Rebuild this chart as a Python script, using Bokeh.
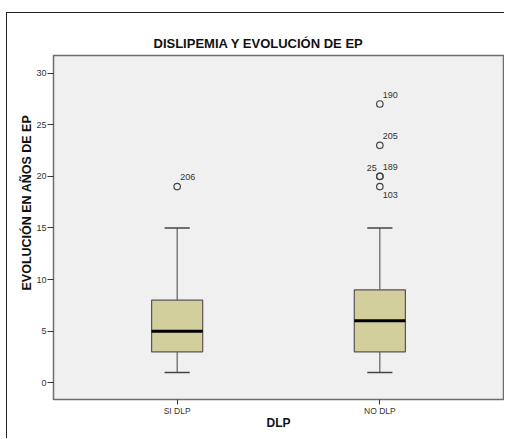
from bokeh.plotting import figure
from bokeh.models import Range1d, FixedTicker, Title, ColumnDataSource
from bokeh.embed import file_html
from bokeh.resources import INLINE

# ---- data ----
categories = ["SI DLP", "NO DLP"]
q1 = [3, 3]
median = [5, 6]
q3 = [8, 9]
whisker_low = [1, 1]
whisker_high = [15, 15]

outlier_group = [0, 1, 1, 1, 1, 1]
outlier_value = [19, 27, 23, 20, 20, 19]
outlier_id = ["206", "190", "205", "25", "189", "103"]
outlier_place = ["ur", "ur", "ur", "ul", "ur", "dr"]

y_ticks = [0, 5, 10, 15, 20, 25, 30]

# ---- figure ----
FONT = "Liberation Sans"
pos = [i + 1 for i in range(len(categories))]

p = figure(width=498, height=426, output_backend="svg", toolbar_location=None,
           x_range=Range1d(0.39, 2.61), y_range=Range1d(-1.62, 31.7),
           min_border_left=46, min_border_right=2, min_border_top=42,
           min_border_bottom=40)
p.styles = {"border-left": "1px solid #222", "border-top": "1px solid #222",
            "margin-top": "12px", "margin-left": "6px"}

p.background_fill_color = "#f0f0f0"
p.border_fill_color = "white"
p.outline_line_color = "#6e6e6e"
p.outline_line_width = 1.5
p.xgrid.visible = False
p.ygrid.visible = False

# title (left-aligned with offset so that it sits where the reference has it)
p.title.text = "DISLIPEMIA Y EVOLUCIÓN DE EP"
p.title.align = "left"
p.title.offset = 100
p.title.standoff = 9
p.title.text_font = FONT
p.title.text_font_size = "13px"
p.title.text_font_style = "bold"
p.title.text_color = "#111111"

# y-axis label as a side title, placed along the axis like the reference
p.add_layout(Title(text="EVOLUCIÓN EN AÑOS DE EP", align="left", offset=109,
                   text_font=FONT, text_font_size="12.5px", text_font_style="bold",
                   text_color="#111111", standoff=0), "left")

# axes
p.yaxis.ticker = FixedTicker(ticks=y_ticks)
p.xaxis.ticker = FixedTicker(ticks=pos)
p.xaxis.major_label_overrides = {pp: c for pp, c in zip(pos, categories)}
for ax in (p.xaxis, p.yaxis):
    ax.axis_line_color = None
    ax.major_tick_in = 0
    ax.minor_tick_line_color = None
    ax.major_tick_line_color = "#333333"
    ax.major_label_text_font = FONT
    ax.major_label_text_color = "#333333"
p.yaxis.major_tick_out = 6
p.yaxis.major_label_standoff = 1
p.yaxis.major_label_text_font_size = "9px"
p.xaxis.major_tick_out = 5
p.xaxis.major_label_standoff = 1
p.xaxis.major_label_text_font_size = "8.5px"
p.xaxis.axis_label = "DLP"
p.xaxis.axis_label_text_font = FONT
p.xaxis.axis_label_text_font_size = "12px"
p.xaxis.axis_label_text_font_style = "bold"
p.xaxis.axis_label_text_color = "#111111"
p.xaxis.axis_label_standoff = -3

BOX_W = 0.252
CAP_W = 0.124

# whiskers
p.segment(x0=pos, y0=q3, x1=pos, y1=whisker_high, line_color="#444444", line_width=1)
p.segment(x0=pos, y0=q1, x1=pos, y1=whisker_low, line_color="#444444", line_width=1)
p.segment(x0=[x - CAP_W / 2 for x in pos], y0=whisker_high,
          x1=[x + CAP_W / 2 for x in pos], y1=whisker_high,
          line_color="#444444", line_width=1.5)
p.segment(x0=[x - CAP_W / 2 for x in pos], y0=whisker_low,
          x1=[x + CAP_W / 2 for x in pos], y1=whisker_low,
          line_color="#444444", line_width=1.5)

# boxes
p.vbar(x=pos, width=BOX_W, bottom=q1, top=q3, fill_color="#d3cf9c",
       line_color="#555555", line_width=1.2)
p.segment(x0=[x - BOX_W / 2 for x in pos], y0=median,
          x1=[x + BOX_W / 2 for x in pos], y1=median,
          line_color="black", line_width=3)

# outliers
ox = [pos[g] for g in outlier_group]
p.scatter(x=ox, y=outlier_value, marker="circle", size=6.5, fill_color=None,
          line_color="#444444", line_width=1.2)

offsets = {"ur": (3, -9.5, "left"), "ul": (-3, -8, "right"), "dr": (3, 8.5, "left")}
for place, (dx, dy, align) in offsets.items():
    idx = [i for i, pl in enumerate(outlier_place) if pl == place]
    src = ColumnDataSource(dict(x=[ox[i] for i in idx],
                                y=[outlier_value[i] for i in idx],
                                t=[outlier_id[i] for i in idx]))
    p.text(x="x", y="y", text="t", source=src, x_offset=dx, y_offset=dy,
           text_align=align, text_baseline="middle", text_font_size="9px",
           text_color="#333333", text_font={"value": FONT})

open("out.html", "w").write(file_html(p, INLINE))
